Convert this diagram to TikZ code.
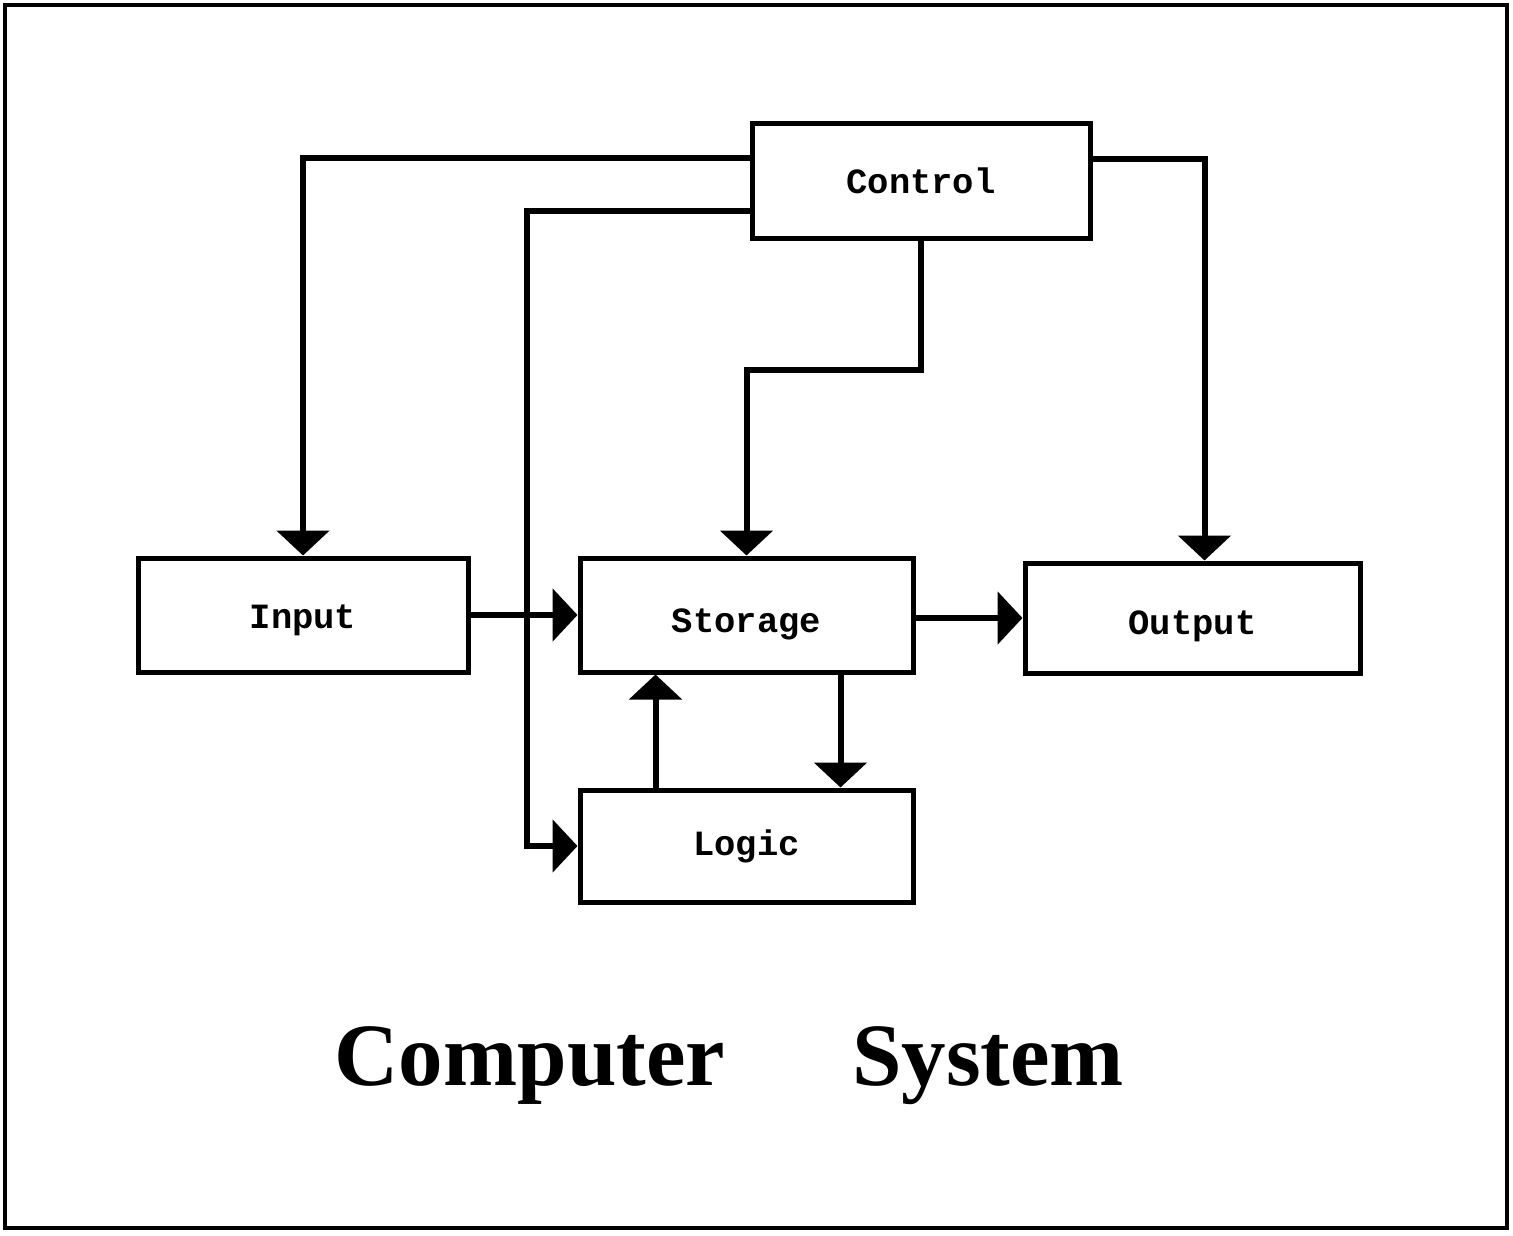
\documentclass[tikz,border=0pt]{standalone}
\usepackage{fontspec}
\setmainfont{Liberation Serif}
\setmonofont{Liberation Mono}
\usetikzlibrary{arrows.meta,calc}
\newcommand{\lowerby}[2]{\raisebox{-#1}[\height][\depth]{#2}}
\begin{document}
\begin{tikzpicture}[x=1pt,y=-1pt,
  blk/.style={draw, line width=5pt, inner sep=0pt, font=\ttfamily\bfseries\fontsize{35.5}{40}\selectfont},
  conn/.style={line width=6pt},
  arr/.style={conn, -{Triangle[width=52pt,length=25pt]}},
  ttl/.style={font=\bfseries\fontsize{89}{100}\selectfont, inner sep=0pt, anchor=base}]
\useasboundingbox (0,0) rectangle (1513,1235);
\fill[white] (0,0) rectangle (1513,1235);
\draw[line width=4pt] (5,5) rectangle (1507,1228);

\node[blk, minimum width=338pt, minimum height=115pt] (ctrl) at (921,180.5) {Control};
\node[blk, minimum width=330pt, minimum height=114pt] (input) at (303,615) {\lowerby{5pt}{Input}};
\node[blk, minimum width=333pt, minimum height=114pt] (storage) at (746.5,615) {\lowerby{9pt}{Storage}};
\node[blk, minimum width=335pt, minimum height=110pt] (output) at (1192.5,618) {\lowerby{8pt}{Output}};
\node[blk, minimum width=333pt, minimum height=112pt] (logic) at (746.5,846) {Logic};

\coordinate (bus) at (527,0);
\coordinate (turn) at (0,370);

\draw[arr] ([yshift=23pt]ctrl.west) -| (input.north);
\draw[arr] ([yshift=-30pt]ctrl.west) -| (bus |- logic.west) -- (logic.west);
\draw[arr] (ctrl.south) -- (ctrl.south |- turn) -| (storage.north);
\draw[arr] ([yshift=22pt]ctrl.east) -| ([xshift=12pt]output.north);
\draw[arr] (input.east) -- (storage.west);
\draw[arr] (storage.east |- output.west) -- (output.west);
\draw[arr] ([xshift=94pt]storage.south) -- ([xshift=94pt]logic.north);
\draw[arr] ([xshift=-91pt]logic.north) -- ([xshift=-91pt]storage.south);

\node[ttl] (t1) at (530,1085) {Computer};
\node[ttl] (t2) at (988,1085) {System};
\end{tikzpicture}
\end{document}
